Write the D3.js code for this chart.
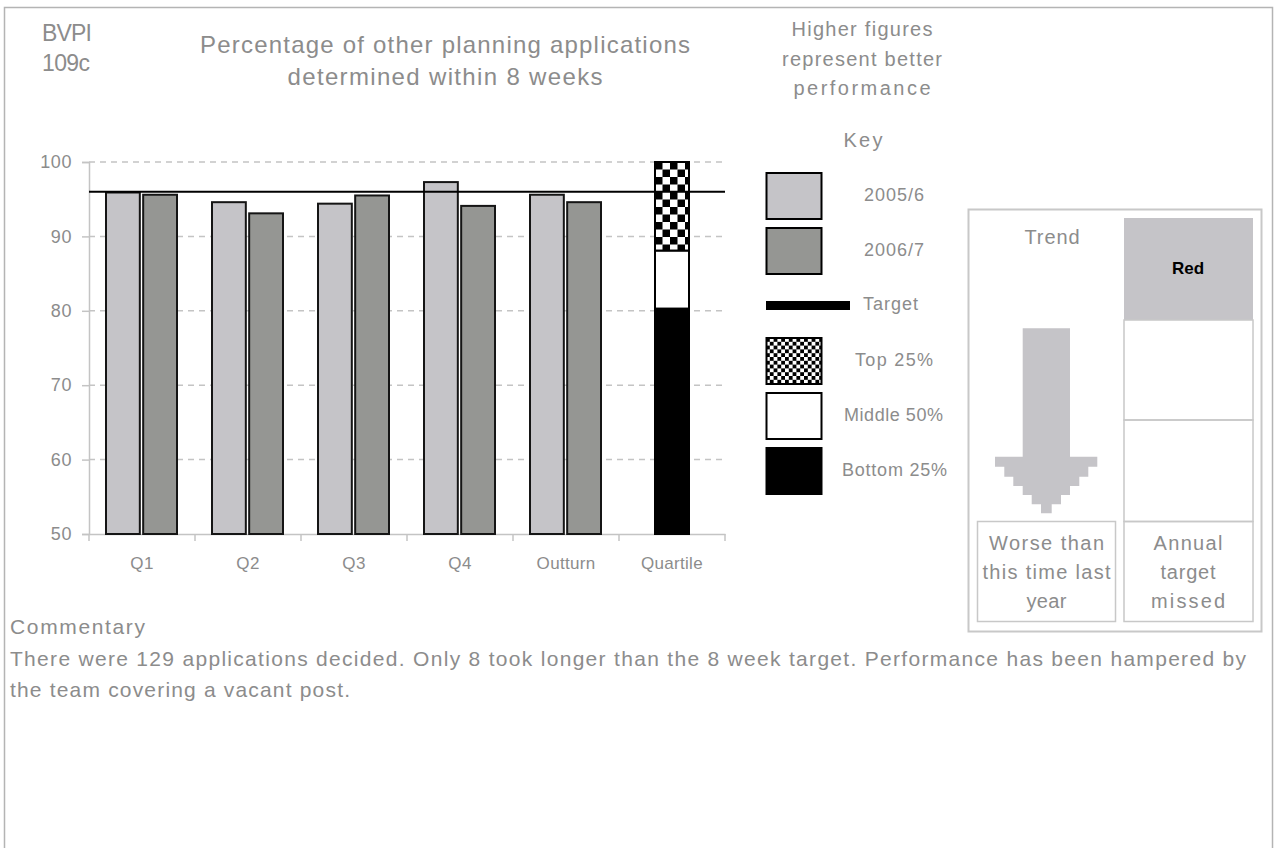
<!DOCTYPE html>
<html>
<head>
<meta charset="utf-8">
<script src="https://cdn.jsdelivr.net/npm/d3@7/dist/d3.min.js"></script>
<style>
  html, body { margin: 0; padding: 0; background: #fff; }
  svg { display: block; }
  text { font-family: "Liberation Sans", Arial, sans-serif; fill: #8c8c8c; }
</style>
</head>
<body>
<svg id="chart" width="1277" height="848"></svg>
<script>
// ---------- data ----------
const categories = ["Q1", "Q2", "Q3", "Q4", "Outturn", "Quartile"];
const seriesNames = ["2005/6", "2006/7"];
const values2005 = [95.9, 94.6, 94.4, 97.3, 95.6];
const values2006 = [95.6, 93.1, 95.5, 94.1, 94.6];
const targetValue = 96;
const quartileNames = ["Bottom 25%", "Middle 50%", "Top 25%"];
const quartileBounds = [50, 80.3, 88.1, 100];
const yTicks = [50, 60, 70, 80, 90, 100];
const titleLines = ["Percentage of other planning applications", "determined within 8 weeks"];
const codeLines = ["BVPI", "109c"];
const noteLines = ["Higher figures", "represent better", "performance"];
const trendLines = ["Worse than", "this time last", "year"];
const statusLines = ["Annual", "target", "missed"];
const statusLabel = "Red";
const commentaryTitle = "Commentary";
const commentaryLines = [
  "There were 129 applications decided. Only 8 took longer than the 8 week target. Performance has been hampered by",
  "the team covering a vacant post."
];

// ---------- setup ----------
const svg = d3.select("#chart");
const textColor = "#8c8c8c";
const lightFill = "#c5c4c8";
const darkFill = "#959693";

function fit(sel, width) {
  sel.attr("textLength", width).attr("lengthAdjust", "spacing");
  return sel;
}

const defs = svg.append("defs");
function checker(id, size, ox, oy) {
  const p = defs.append("pattern").attr("id", id)
    .attr("patternUnits", "userSpaceOnUse")
    .attr("width", size * 2).attr("height", size * 2)
    .attr("x", ox).attr("y", oy);
  p.append("rect").attr("width", size * 2).attr("height", size * 2).attr("fill", "#fff");
  p.append("rect").attr("width", size).attr("height", size).attr("fill", "#000");
  p.append("rect").attr("x", size).attr("y", size).attr("width", size).attr("height", size).attr("fill", "#000");
}

// outer frame
svg.append("rect").attr("x", 4.5).attr("y", 7.5).attr("width", 1268).attr("height", 860)
  .attr("fill", "none").attr("stroke", "#b4b4b4").attr("stroke-width", 1.5);

// header texts
svg.selectAll("text.code").data(codeLines).join("text")
  .attr("class", "code").attr("x", 42).attr("y", (d, i) => 33 + i * 30)
  .attr("dy", "0.35em").attr("font-size", 23).text(d => d)
  .each(function (d, i) { fit(d3.select(this), i === 0 ? 50 : 48); });

svg.selectAll("text.title").data(titleLines).join("text")
  .attr("class", "title").attr("x", 445).attr("y", (d, i) => 45 + i * 32)
  .attr("dy", "0.35em").attr("text-anchor", "middle").attr("font-size", 24).text(d => d)
  .each(function (d, i) { fit(d3.select(this), i === 0 ? 490 : 315); });

const noteW = [141, 160, 137];
svg.selectAll("text.note").data(noteLines).join("text")
  .attr("class", "note").attr("x", 862).attr("y", (d, i) => 29 + i * 29.5)
  .attr("dy", "0.35em").attr("text-anchor", "middle").attr("font-size", 20).text(d => d)
  .each(function (d, i) { fit(d3.select(this), noteW[i]); });

// ---------- chart ----------
const x0 = 89, x1 = 725, yTop = 162, yBot = 534;
const x = d3.scaleBand().domain(categories).range([x0, x1]).paddingInner(0).paddingOuter(0);
const y = d3.scaleLinear().domain([50, 100]).range([yBot, yTop]);
const inner = d3.scaleBand().domain(seriesNames).range([17, 88]).paddingInner(0.09);

// grid
svg.append("g").selectAll("line").data(yTicks.filter(t => t > 50)).join("line")
  .attr("x1", x0).attr("x2", x1).attr("y1", d => y(d)).attr("y2", d => y(d))
  .attr("stroke", "#c4c4c4").attr("stroke-width", 1.5).attr("stroke-dasharray", "6,5");

// y axis
const yAxis = svg.append("g").attr("transform", `translate(${x0},0)`)
  .call(d3.axisLeft(y).tickValues(yTicks).tickSize(7).tickPadding(10).tickFormat(d3.format("d")));
yAxis.select(".domain").attr("stroke", "#c4c4c4").attr("stroke-width", 1.5);
yAxis.selectAll(".tick line").attr("stroke", "#c4c4c4").attr("stroke-width", 1.5);
yAxis.selectAll(".tick text").attr("fill", textColor).attr("font-size", 18)
  .attr("font-family", "Liberation Sans, Arial, sans-serif").attr("letter-spacing", 0.6);

// x axis
const xAxis = svg.append("g").attr("transform", `translate(0,${yBot})`)
  .call(d3.axisBottom(x).tickSize(0).tickPadding(23));
xAxis.select(".domain").attr("stroke", "#c4c4c4").attr("stroke-width", 1.5);
xAxis.selectAll(".tick text").attr("fill", textColor).attr("font-size", 17)
  .attr("font-family", "Liberation Sans, Arial, sans-serif").attr("letter-spacing", 0.3);
// boundary ticks
const bounds = categories.map(c => x(c)).concat([x1]);
xAxis.append("g").selectAll("line").data(bounds).join("line")
  .attr("x1", d => d).attr("x2", d => d).attr("y1", 0).attr("y2", 7)
  .attr("stroke", "#c4c4c4").attr("stroke-width", 1.5);

// bars
const barData = [];
categories.slice(0, 5).forEach((c, i) => {
  barData.push({ cat: c, s: seriesNames[0], v: values2005[i], fill: lightFill });
  barData.push({ cat: c, s: seriesNames[1], v: values2006[i], fill: darkFill });
});
svg.append("g").selectAll("rect").data(barData).join("rect")
  .attr("x", d => x(d.cat) + inner(d.s))
  .attr("width", inner.bandwidth())
  .attr("y", d => y(d.v))
  .attr("height", d => y(50) - y(d.v))
  .attr("fill", d => d.fill)
  .attr("stroke", "#151515").attr("stroke-width", 2);

// quartile stacked bar
const qw = 34;
const qx = x("Quartile") + x.bandwidth() / 2 - qw / 2;
checker("chkBar", 7.5, qx, y(100));
checker("chkKey", 3.8, 766, 338);
const qFills = ["#000", "#fff", "url(#chkBar)"];
const qSegs = quartileNames.map((n, i) => ({ name: n, lo: quartileBounds[i], hi: quartileBounds[i + 1], fill: qFills[i] }));
svg.append("g").selectAll("rect").data(qSegs).join("rect")
  .attr("x", qx).attr("width", qw)
  .attr("y", d => y(d.hi)).attr("height", d => y(d.lo) - y(d.hi))
  .attr("fill", d => d.fill).attr("stroke", "#000").attr("stroke-width", 2);

// target line
svg.append("line").attr("x1", x0).attr("x2", x1)
  .attr("y1", y(targetValue)).attr("y2", y(targetValue))
  .attr("stroke", "#000").attr("stroke-width", 2);

// ---------- key ----------
svg.append("text").attr("x", 863).attr("y", 140).attr("dy", "0.35em").attr("text-anchor", "middle")
  .attr("font-size", 20).text("Key").call(s => fit(s, 39));

const keyItems = [
  { label: seriesNames[0], type: "box", fill: lightFill, y: 173, ty: 195, tx: 864, tw: 60 },
  { label: seriesNames[1], type: "box", fill: darkFill, y: 228, ty: 250, tx: 864, tw: 60 },
  { label: "Target", type: "line", y: 301, ty: 304, tx: 863, tw: 55 },
  { label: quartileNames[2], type: "box", fill: "url(#chkKey)", y: 338, ty: 360, tx: 855, tw: 78 },
  { label: quartileNames[1], type: "box", fill: "#fff", y: 393, ty: 415, tx: 844, tw: 99 },
  { label: quartileNames[0], type: "box", fill: "#000", y: 448, ty: 470, tx: 842, tw: 105 }
];
const key = svg.append("g");
key.selectAll("rect.kb").data(keyItems.filter(d => d.type === "box")).join("rect")
  .attr("class", "kb").attr("x", 766.5).attr("y", d => d.y).attr("width", 55).attr("height", 46)
  .attr("fill", d => d.fill).attr("stroke", "#000").attr("stroke-width", 2);
key.selectAll("rect.kl").data(keyItems.filter(d => d.type === "line")).join("rect")
  .attr("class", "kl").attr("x", 766).attr("y", d => d.y).attr("width", 84).attr("height", 9)
  .attr("fill", "#000");
key.selectAll("text").data(keyItems).join("text")
  .attr("x", d => d.tx).attr("y", d => d.ty).attr("dy", "0.35em").attr("font-size", 18)
  .text(d => d.label).each(function (d) { fit(d3.select(this), d.tw); });

// ---------- status panel ----------
const panel = svg.append("g");
panel.append("rect").attr("x", 968.5).attr("y", 209.5).attr("width", 293).attr("height", 422)
  .attr("fill", "none").attr("stroke", "#c8c8c8").attr("stroke-width", 2);
panel.append("rect").attr("x", 1124).attr("y", 218).attr("width", 129).attr("height", 102)
  .attr("fill", lightFill);
[[1124, 320, 129, 100], [1124, 420, 129, 101.5], [1124, 521.5, 129, 100], [977.5, 521.5, 138, 100]]
  .forEach(r => panel.append("rect").attr("x", r[0]).attr("y", r[1]).attr("width", r[2]).attr("height", r[3])
    .attr("fill", "none").attr("stroke", "#c8c8c8").attr("stroke-width", 1.5));
panel.append("text").attr("x", 1052).attr("y", 237).attr("dy", "0.35em").attr("text-anchor", "middle")
  .attr("font-size", 20).text("Trend").call(s => fit(s, 55));
panel.append("text").attr("x", 1188).attr("y", 268).attr("dy", "0.35em").attr("text-anchor", "middle")
  .attr("font-size", 17).attr("font-weight", "bold").style("fill", "#000").text(statusLabel);

// stepped down arrow
const arrowPts = [
  [1022.7, 328.3], [1070, 328.3], [1070, 456.7], [1097.3, 456.7], [1097.3, 466.7], [1088.3, 466.7],
  [1088.3, 476.7], [1079.3, 476.7], [1079.3, 486], [1070, 486], [1070, 495], [1061, 495],
  [1061, 504.3], [1051.7, 504.3], [1051.7, 513.3], [1041, 513.3], [1041, 504.3], [1031.7, 504.3],
  [1031.7, 495], [1022.7, 495], [1022.7, 486], [1013.3, 486], [1013.3, 476.7], [1004.3, 476.7],
  [1004.3, 466.7], [995, 466.7], [995, 456.7], [1022.7, 456.7]
];
panel.append("path").attr("d", d3.line()(arrowPts) + "Z").attr("fill", lightFill);

const trendW = [115, 128, 40];
panel.selectAll("text.tr").data(trendLines).join("text").attr("class", "tr")
  .attr("x", 1046.5).attr("y", (d, i) => 542.7 + i * 29).attr("dy", "0.35em").attr("text-anchor", "middle")
  .attr("font-size", 20).text(d => d).each(function (d, i) { fit(d3.select(this), trendW[i]); });
const statW = [69, 55, 74];
panel.selectAll("text.st").data(statusLines).join("text").attr("class", "st")
  .attr("x", 1188).attr("y", (d, i) => 542.7 + i * 29).attr("dy", "0.35em").attr("text-anchor", "middle")
  .attr("font-size", 20).text(d => d).each(function (d, i) { fit(d3.select(this), statW[i]); });

// ---------- commentary ----------
svg.append("text").attr("x", 10).attr("y", 627).attr("dy", "0.35em").attr("font-size", 21)
  .text(commentaryTitle).call(s => fit(s, 135));
const comW = [1236, 340];
svg.selectAll("text.com").data(commentaryLines).join("text").attr("class", "com")
  .attr("x", 10).attr("y", (d, i) => 659 + i * 30.5).attr("dy", "0.35em").attr("font-size", 21)
  .text(d => d).each(function (d, i) { fit(d3.select(this), comW[i]); });
</script>
</body>
</html>
